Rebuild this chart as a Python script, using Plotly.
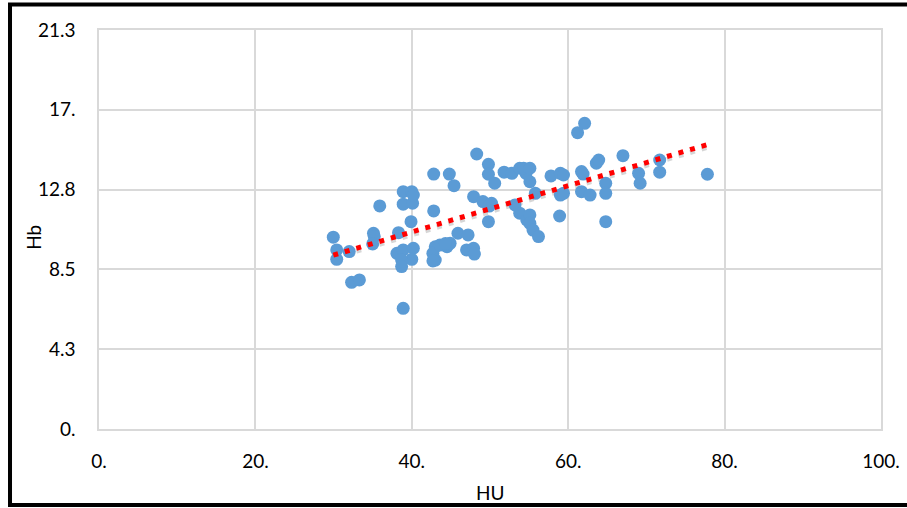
import numpy as np
import plotly.graph_objects as go

# Data
hu = [29.96, 30.4, 30.4, 32.0, 32.3, 33.3, 35.1, 35.2, 35.0, 35.9,
      38.3, 38.9, 40.0, 38.9, 40.1, 40.2, 39.9, 38.1, 38.9, 40.2,
      40.0, 38.7, 38.7, 38.9, 42.8, 44.8, 45.4, 48.3, 49.8, 49.8,
      50.6, 51.8, 52.8, 53.8, 54.6, 47.9, 49.1, 50.2, 49.8, 42.8,
      53.8, 54.7, 45.9, 47.2, 43.0, 42.7, 43.0, 44.5, 44.9, 47.0,
      47.9, 48.0, 42.7, 43.6, 54.3, 55.1, 55.1, 57.8, 59.0, 59.4,
      61.7, 61.9, 55.8, 59.0, 59.4, 61.7, 62.8, 64.8, 64.8, 55.1,
      55.1, 55.5, 56.2, 58.9, 64.8, 62.1, 61.2, 63.6, 63.9, 67.0,
      69.0, 69.2, 71.7, 71.7, 77.8, 53.2, 49.9, 44.3]
hb = [10.24, 9.56, 9.06, 9.47, 7.83, 7.96, 10.45, 10.27, 9.88, 11.91,
      10.48, 12.67, 12.67, 12.0, 12.05, 12.49, 11.07, 9.38, 9.56, 9.65,
      9.06, 9.02, 8.67, 6.44, 13.61, 13.61, 12.99, 14.68, 14.13, 13.6,
      13.12, 13.71, 13.65, 13.92, 13.65, 12.4, 12.14, 12.05, 11.07, 11.64,
      11.52, 11.16, 10.45, 10.36, 9.73, 9.38, 9.02, 9.73, 9.91, 9.56,
      9.65, 9.34, 8.97, 9.82, 13.92, 13.92, 13.2, 13.51, 13.65, 13.56,
      13.74, 13.61, 12.58, 12.49, 12.58, 12.67, 12.49, 13.12, 12.58, 11.43,
      10.98, 10.62, 10.27, 11.37, 11.07, 16.32, 15.82, 14.19, 14.36, 14.59,
      13.65, 13.12, 14.36, 13.71, 13.6, 11.96, 11.9, 9.9]

x_tickvals = [0, 20, 40, 60, 80, 100]
x_ticktext = ["0.", "20.", "40.", "60.", "80.", "100."]
y_tickvals = [0, 4.26, 8.52, 12.78, 17.04, 21.3]
y_ticktext = ["0.", "4.3", "8.5", "12.8", "17.", "21.3"]

# Linear trendline derived from the data
slope, intercept = np.polyfit(hu, hb, 1)
tx = np.array([min(hu), max(hu)])
ty = slope * tx + intercept

fig = go.Figure()
fig.add_trace(go.Scatter(
    x=tx, y=ty - 0.15, mode="lines",
    line=dict(color="rgba(0,0,0,0.16)", width=5, dash="5px,7px"),
    hoverinfo="skip", showlegend=False))
fig.add_trace(go.Scatter(
    x=hu, y=hb, mode="markers",
    marker=dict(color="#5B9BD5", size=13, line=dict(width=0)),
    showlegend=False, cliponaxis=False))
fig.add_trace(go.Scatter(
    x=tx, y=ty, mode="lines",
    line=dict(color="#FF0000", width=5, dash="5px,7px"),
    showlegend=False))

grid = "#D9D9D9"
font = dict(family="Lato, Open Sans, sans-serif", size=19, color="#000000")

fig.update_layout(
    width=907, height=508,
    margin=dict(l=99, r=26, t=30, b=79, autoexpand=False),
    paper_bgcolor="white", plot_bgcolor="white",
    font=font,
    xaxis=dict(range=[0, 100], tickvals=x_tickvals, ticktext=x_ticktext,
               showgrid=True, gridcolor=grid, gridwidth=1.5,
               showline=True, linecolor=grid, linewidth=1.5, mirror=True,
               zeroline=False, ticks="", ticklabelstandoff=14,
               automargin=False),
    yaxis=dict(range=[0, 21.3], tickvals=y_tickvals, ticktext=y_ticktext,
               showgrid=True, gridcolor=grid, gridwidth=1.5,
               showline=True, linecolor=grid, linewidth=1.5, mirror=True,
               zeroline=False, ticks="", ticklabelstandoff=18,
               automargin=False),
    annotations=[
        dict(text="HU", xref="paper", yref="paper", x=0.5, y=-0.16,
             xanchor="center", yanchor="middle", showarrow=False,
             font=dict(size=19)),
        dict(text="Hb", xref="paper", yref="paper", x=-0.084, y=0.48,
             xanchor="center", yanchor="middle", showarrow=False,
             textangle=-90, font=dict(size=19)),
    ],
    shapes=[dict(type="rect", xref="paper", yref="paper",
                 x0=-0.1138, x1=1.1, y0=-0.1905, y1=1.0640,
                 line=dict(color="black", width=4), layer="above")],
)

fig.write_html("out.html",
               config={"displayModeBar": False},
               post_script="document.body.style.margin='0';"
                           "document.body.style.overflow='hidden';")
